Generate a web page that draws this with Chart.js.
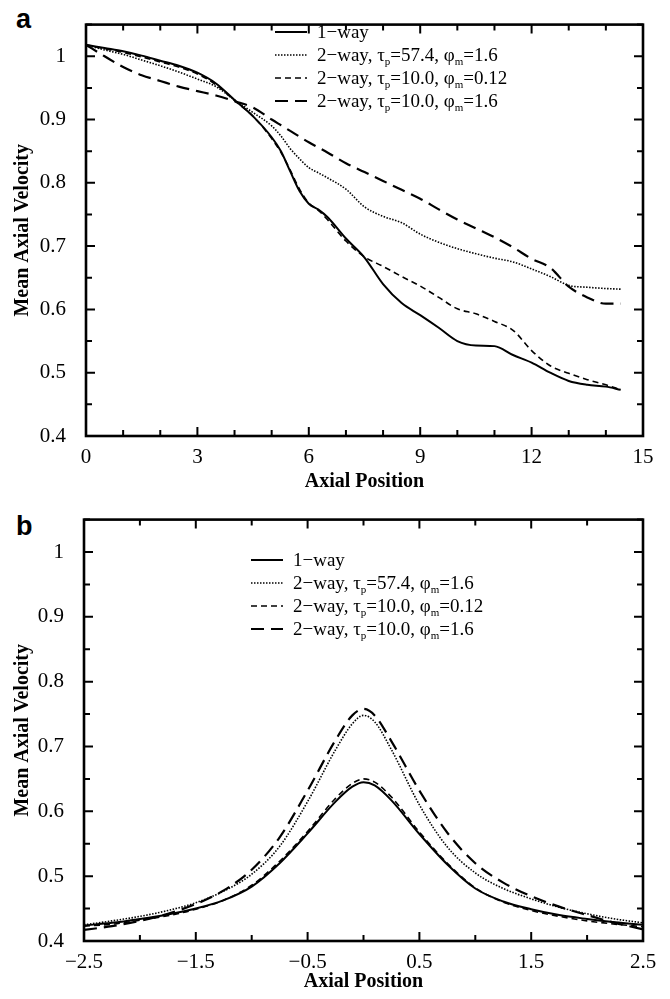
<!DOCTYPE html>
<html lang="en">
<head>
<meta charset="UTF-8">
<title>Mean Axial Velocity</title>
<script src="https://cdn.jsdelivr.net/npm/chart.js"></script>
<style>
body{margin:0;background:#fff;width:670px;height:999px;position:relative;overflow:hidden;font-family:"Liberation Serif","Times New Roman",serif;color:#000;}
canvas{position:absolute;left:0;}
#chartA{top:0;}
#chartB{top:495px;}
.panel{position:absolute;left:16px;font-family:"Liberation Sans",Arial,sans-serif;font-weight:bold;font-size:27px;line-height:27px;}
.legend{position:absolute;font-size:19px;}
.legend div{height:23px;white-space:nowrap;display:flex;align-items:center;}
.legend svg{margin-right:10px;}
sub{font-size:11px;vertical-align:-4px;line-height:0;}
</style>
</head>
<body>

<div class="panel" style="top:6px;">a</div>
<div class="panel" style="top:513px;">b</div>

<canvas id="chartA" width="670" height="495"></canvas>
<canvas id="chartB" width="670" height="504"></canvas>

<!-- legends -->
<div class="legend" id="legA" style="left:275px;top:20px;"></div>
<div class="legend" id="legB" style="left:251px;top:548px;"></div>

<script>
// ---- panel a : axial profile ----
const xA = [0, 0.5, 1, 1.5, 2, 2.5, 3, 3.5, 4, 4.5, 5, 5.25, 5.5, 5.75, 6, 6.25, 6.5, 7, 7.5, 8, 8.5, 9, 9.5, 10, 10.5, 11, 11.5, 12, 12.5, 13, 13.5, 14, 14.4];
const oneWayA  = [1.018, 1.013, 1.008, 1.001, 0.993, 0.985, 0.974, 0.957, 0.931, 0.905, 0.872, 0.850, 0.818, 0.787, 0.767, 0.758, 0.746, 0.712, 0.682, 0.640, 0.610, 0.591, 0.571, 0.550, 0.543, 0.542, 0.528, 0.516, 0.500, 0.487, 0.481, 0.478, 0.473];
const tau57A   = [1.018, 1.010, 1.003, 0.994, 0.985, 0.975, 0.964, 0.952, 0.931, 0.911, 0.890, 0.874, 0.854, 0.838, 0.824, 0.816, 0.808, 0.790, 0.762, 0.747, 0.737, 0.719, 0.706, 0.696, 0.688, 0.681, 0.675, 0.664, 0.652, 0.638, 0.635, 0.633, 0.632];
const tau10lowA = [1.018, 1.012, 1.006, 0.999, 0.991, 0.983, 0.972, 0.955, 0.930, 0.905, 0.870, 0.848, 0.820, 0.790, 0.768, 0.757, 0.742, 0.708, 0.683, 0.668, 0.652, 0.637, 0.619, 0.601, 0.593, 0.581, 0.567, 0.535, 0.511, 0.499, 0.489, 0.481, 0.473];
const tau10highA = [1.018, 1.000, 0.983, 0.970, 0.961, 0.952, 0.945, 0.938, 0.929, 0.919, 0.900, 0.891, 0.882, 0.873, 0.864, 0.856, 0.848, 0.831, 0.817, 0.803, 0.789, 0.775, 0.758, 0.742, 0.728, 0.714, 0.698, 0.680, 0.666, 0.636, 0.619, 0.609, 0.609];

const xTicksA = [0, 3, 6, 9, 12, 15];
const xMinorA = [1, 2, 4, 5, 7, 8, 10, 11, 13, 14];

// ---- panel b : radial profile ----
const xB = [-2.5, -2.25, -2, -1.75, -1.5, -1.25, -1, -0.75, -0.5, -0.25, -0.1, 0, 0.1, 0.25, 0.5, 0.75, 1, 1.25, 1.5, 1.75, 2, 2.25, 2.5];
const oneWayB   = [0.424, 0.428, 0.434, 0.441, 0.450, 0.463, 0.484, 0.520, 0.566, 0.615, 0.638, 0.645, 0.640, 0.617, 0.565, 0.518, 0.481, 0.461, 0.449, 0.440, 0.434, 0.429, 0.425];
const tau57B    = [0.425, 0.431, 0.438, 0.447, 0.459, 0.477, 0.503, 0.546, 0.615, 0.695, 0.735, 0.748, 0.738, 0.695, 0.610, 0.545, 0.505, 0.481, 0.465, 0.452, 0.442, 0.434, 0.428];
const tau10lowB  = [0.423, 0.426, 0.432, 0.439, 0.449, 0.463, 0.486, 0.523, 0.569, 0.620, 0.643, 0.650, 0.645, 0.622, 0.568, 0.520, 0.482, 0.460, 0.447, 0.438, 0.431, 0.426, 0.422];
const tau10highB = [0.417, 0.423, 0.431, 0.442, 0.457, 0.478, 0.510, 0.560, 0.632, 0.710, 0.748, 0.758, 0.748, 0.708, 0.632, 0.567, 0.520, 0.490, 0.469, 0.453, 0.440, 0.428, 0.418];

const xTicksB = [-2.5, -1.5, -0.5, 0.5, 1.5, 2.5];
const xMinorB = [-2, -1, 0, 1, 2];

// shared y ticks
const yTicks = [0.4, 0.5, 0.6, 0.7, 0.8, 0.9, 1];
const yMinor = [0.45, 0.55, 0.65, 0.75, 0.85, 0.95, 1.05];

const legendLabels = [
  "1&minus;way",
  "2&minus;way, &tau;<sub>p</sub>=57.4, &phi;<sub>m</sub>=1.6",
  "2&minus;way, &tau;<sub>p</sub>=10.0, &phi;<sub>m</sub>=0.12",
  "2&minus;way, &tau;<sub>p</sub>=10.0, &phi;<sub>m</sub>=1.6"
];
const lineStyles = [
  {width: 2, dash: []},
  {width: 1.6, dash: [1.5, 1.5]},
  {width: 1.6, dash: [6, 4]},
  {width: 2.2, dash: [13, 7]}
];

const serif = "'Liberation Serif', 'Times New Roman', serif";
Chart.defaults.font.family = serif;
Chart.defaults.color = '#000';

// inward ticks + closed frame
const frameTicks = {
  id: 'frameTicks',
  afterDraw(chart, args, opts){
    const {ctx, chartArea: a, scales: {x, y}} = chart;
    ctx.save();
    ctx.strokeStyle = '#000';
    ctx.lineWidth = 2;
    ctx.beginPath();
    const xt = (v, len) => { const p = x.getPixelForValue(v); ctx.moveTo(p, a.bottom); ctx.lineTo(p, a.bottom - len); ctx.moveTo(p, a.top); ctx.lineTo(p, a.top + len); };
    const yt = (v, len) => { const p = y.getPixelForValue(v); ctx.moveTo(a.left, p); ctx.lineTo(a.left + len, p); ctx.moveTo(a.right, p); ctx.lineTo(a.right - len, p); };
    opts.xMajor.forEach(v => xt(v, 9));
    opts.xMinor.forEach(v => xt(v, 6));
    yTicks.forEach(v => yt(v, 9));
    yMinor.forEach(v => yt(v, 6));
    ctx.stroke();
    ctx.lineWidth = 2.6;
    ctx.strokeRect(a.left, a.top, a.right - a.left, a.bottom - a.top);
    ctx.restore();
  }
};

function series(xs, ys){ return xs.map((v, i) => ({x: v, y: ys[i]})); }

function fmt(v){
  const s = String(+v.toFixed(2));
  return v < 0 ? '\u2212' + s.slice(1) : s;
}

function makeChart(id, xs, sets, xMin, xMax, xMajor, xMinor, pad, yWidth, xHeight, titleBottom){
  const datasets = sets.map((ys, i) => ({
    data: series(xs, ys),
    borderColor: '#000',
    borderWidth: lineStyles[i].width,
    borderDash: lineStyles[i].dash,
    pointRadius: 0,
    fill: false,
    cubicInterpolationMode: 'monotone'
  }));
  return new Chart(document.getElementById(id), {
    type: 'line',
    data: {datasets},
    plugins: [frameTicks],
    options: {
      responsive: false,
      devicePixelRatio: 1,
      animation: false,
      layout: {padding: pad},
      plugins: {legend: {display: false}, tooltip: {enabled: false}, frameTicks: {xMajor, xMinor}},
      scales: {
        x: {
          type: 'linear', min: xMin, max: xMax,
          grid: {display: false}, border: {display: false},
          afterBuildTicks: s => { s.ticks = xMajor.map(v => ({value: v})); },
          afterFit: s => { s.height = xHeight; },
          ticks: {color: '#000', font: {family: serif, size: 21}, padding: 1, autoSkip: false, maxRotation: 0, callback: v => fmt(v)},
          title: {display: true, text: 'Axial Position', color: '#000', font: {family: serif, size: 20, weight: 'bold'}, padding: {top: 0, bottom: titleBottom}}
        },
        y: {
          min: 0.4, max: 1.05,
          grid: {display: false}, border: {display: false},
          afterBuildTicks: s => { s.ticks = yTicks.map(v => ({value: v})); },
          afterFit: s => { s.width = yWidth; },
          ticks: {color: '#000', font: {family: serif, size: 21}, padding: 12, callback: v => fmt(v)},
          title: {display: true, text: 'Mean Axial Velocity', color: '#000', font: {family: serif, size: 20, weight: 'bold'}, padding: {top: 11, bottom: 0}}
        }
      }
    }
  });
}

function buildLegend(id){
  const box = document.getElementById(id);
  box.innerHTML = legendLabels.map((t, i) =>
    '<div><svg width="32" height="6"><line x1="0" y1="3" x2="32" y2="3" stroke="#000" stroke-width="' + lineStyles[i].width +
    '" stroke-dasharray="' + (lineStyles[i].dash.join(',') || 'none') + '"/></svg><span>' + t + '</span></div>'
  ).join('');
}

makeChart('chartA', xA, [oneWayA, tau57A, tau10lowA, tau10highA], 0, 15, xTicksA, xMinorA,
  {top: 12, right: 27, left: 0, bottom: 0}, 86, 59, 1);
makeChart('chartB', xB, [oneWayB, tau57B, tau10lowB, tau10highB], -2.5, 2.5, xTicksB, xMinorB,
  {top: 21, right: 27, left: 0, bottom: 0}, 84, 58, 5);

buildLegend('legA');
buildLegend('legB');
</script>

</body>
</html>
